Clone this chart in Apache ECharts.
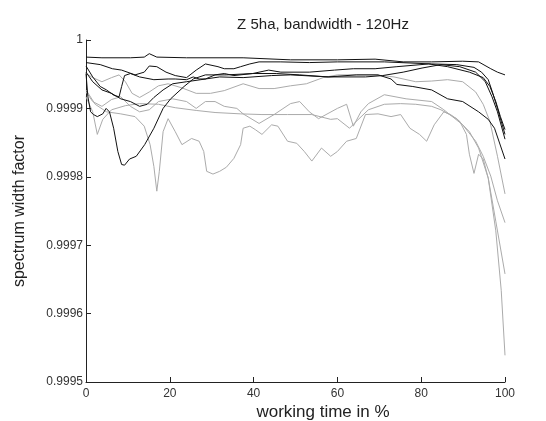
<!DOCTYPE html>
<html>
<head>
<meta charset="utf-8">
<script src="https://cdn.jsdelivr.net/npm/echarts@6/dist/echarts.min.js"></script>
<style>
  html, body { margin: 0; padding: 0; background: #fff; }
  #chart { width: 546px; height: 421px; }
</style>
</head>
<body>
<div id="chart"></div>
<script>
// x = working time in %, y = spectrum width factor
const xTicks = [0, 20, 40, 60, 80, 100];
const yTicks = [0.9995, 0.9996, 0.9997, 0.9998, 0.9999, 1];

// black runs
const black1 = [[0,0.999975],[3.8,0.999974],[10.6,0.999974],[13.9,0.999975],[15.1,0.99998],[16.9,0.999975],[24,0.999974],[37.5,0.999974],[48.8,0.999971],[60,0.999971],[69,0.999972],[75.7,0.999968],[82.5,0.999968],[89.9,0.999969],[93.7,0.999968],[96.6,0.999958],[98.2,0.999953],[100,0.999949]];
const black2 = [[0,0.999967],[3.4,0.999964],[6.3,0.999958],[8.5,0.999956],[11.7,0.999949],[13.9,0.999953],[15.1,0.999962],[16.9,0.999961],[19.1,0.999953],[21.3,0.999948],[24,0.999945],[26.3,0.999956],[28.5,0.999965],[31.5,0.999961],[33,0.999958],[35.3,0.999958],[36.9,0.999961],[39.1,0.999965],[41.3,0.999968],[46.5,0.999968],[53.3,0.999967],[60,0.999968],[71.2,0.999968],[82.5,0.999965],[88.5,0.999964],[92.6,0.99996],[94.4,0.999953],[96,0.999942],[97.1,0.999922],[98.2,0.9999],[100,0.999862]];
const black3 = [[0,0.999962],[1.6,0.999946],[3.4,0.999932],[4.9,0.999927],[6.7,0.999919],[7.9,0.999917],[8.5,0.999932],[9.2,0.999948],[10.6,0.999951],[12.8,0.999946],[16.2,0.999942],[19.6,0.999943],[21.3,0.999943],[24,0.999942],[25.6,0.999946],[27,0.999943],[28.5,0.999943],[30.8,0.999949],[33,0.999951],[35.3,0.999948],[39.8,0.999951],[43.6,0.999956],[46.5,0.999953],[53.3,0.999953],[59.3,0.999956],[63.8,0.999958],[69,0.999958],[74.2,0.999961],[81.8,0.999965],[86.3,0.999961],[91.5,0.999953],[94.8,0.999945],[96.4,0.999932],[97.8,0.99991],[98.9,0.999888],[100,0.999869]];
const black4 = [[0,0.999951],[0.45,0.999917],[1.1,0.999895],[1.8,0.999891],[2.7,0.999888],[4,0.999892],[4.8,0.9999],[5.6,0.999895],[6.6,0.999871],[7.6,0.999837],[8.5,0.999818],[9.2,0.999817],[10.4,0.999826],[12,0.99983],[14,0.999847],[16.2,0.999871],[18.4,0.9999],[20.2,0.999914],[23.4,0.999932],[25.6,0.999943],[28.5,0.999949],[33.5,0.999949],[39.8,0.999951],[45.4,0.999951],[51,0.999949],[57.8,0.999946],[64.5,0.999949],[69.7,0.999949],[72.8,0.999943],[74.2,0.999935],[78,0.999932],[82.5,0.999927],[86.3,0.999914],[89.9,0.99991],[93.7,0.999895],[96,0.999884],[97.5,0.999871],[100,0.999826]];
const black5 = [[0,0.999953],[1.6,0.999939],[3.8,0.999927],[6.1,0.999922],[8.3,0.999914],[10.6,0.99991],[12.8,0.999903],[14.6,0.999906],[16.2,0.999916],[18.4,0.999927],[20.7,0.999936],[24,0.999939],[27.4,0.999942],[31.9,0.999946],[37.5,0.999945],[44.3,0.999948],[48.8,0.999949],[57.8,0.999946],[66.7,0.999946],[70.8,0.999948],[75.7,0.999953],[80.2,0.999959],[84.7,0.999964],[89.2,0.999961],[93,0.999953],[95.3,0.999939],[96.9,0.999917],[98.2,0.999895],[100,0.999855]];

// grey runs
const grey1 = [[0,0.999951],[1.6,0.999945],[3.8,0.999939],[6.1,0.999945],[7.9,0.999949],[9.4,0.999939],[11,0.999922],[12.8,0.999916],[15.1,0.999924],[17.3,0.999933],[19.6,0.999936],[22.9,0.99993],[26.3,0.999922],[29.7,0.999922],[33,0.999926],[37.5,0.999936],[41.3,0.999929],[44.9,0.999929],[48.8,0.999933],[52.6,0.999936],[56.6,0.999945],[60,0.999949],[69,0.999949],[73.5,0.999946],[78.7,0.999939],[82.5,0.99994],[86.3,0.999942],[89.9,0.999939],[93,0.999924],[94.8,0.999906],[96.4,0.999881],[98.2,0.99983],[100,0.999775]];
const grey2 = [[0,0.999924],[1.6,0.99991],[3.8,0.999903],[6.1,0.999913],[8.3,0.999917],[10.6,0.999903],[12.8,0.999895],[15.1,0.999898],[17.3,0.99991],[20.7,0.999914],[24,0.99991],[26.3,0.9999],[28.5,0.99991],[30.8,0.99991],[33,0.999903],[36,0.9999],[37.5,0.999892],[41.3,0.999878],[44.9,0.999891],[48.8,0.999907],[51,0.99991],[53.3,0.999895],[55.5,0.999885],[60,0.9999],[62.2,0.999906],[63.8,0.999874],[65.6,0.999895],[67.4,0.999907],[71.2,0.99992],[76.4,0.999914],[82.5,0.99991],[85.4,0.999898],[89.9,0.999876],[93,0.999852],[94.8,0.99983],[96.6,0.999801],[98.2,0.999765],[100,0.999733]];
const grey3 = [[0,0.999917],[1.6,0.999895],[2.7,0.999862],[4,0.999884],[6.1,0.999898],[9.4,0.999904],[12.8,0.999907],[17.3,0.999906],[21.3,0.999901],[26.3,0.999897],[30.8,0.999894],[36.9,0.999892],[42,0.999891],[48.1,0.999891],[53.9,0.999891],[58.4,0.999884],[60,0.999885],[62.9,0.999871],[64.5,0.999881],[67.4,0.999898],[71.2,0.999906],[75.1,0.999907],[78.7,0.999906],[82.5,0.999903],[84.7,0.999898],[88.5,0.999885],[89.9,0.999876],[91.5,0.999866],[93.7,0.999842],[96,0.999798],[97.8,0.999735],[100,0.999658]];
const grey4 = [[0,0.999927],[2.2,0.999906],[4.9,0.999895],[8.3,0.999892],[11.7,0.999888],[13.9,0.999874],[15.3,0.999847],[16.2,0.999815],[16.9,0.999779],[17.5,0.999808],[18.4,0.999866],[19.6,0.999885],[21.3,0.999866],[22.9,0.999847],[25.2,0.999856],[27,0.999852],[28.1,0.999837],[28.8,0.999808],[30.3,0.999804],[31.9,0.999808],[33.5,0.999814],[35.3,0.999827],[36.9,0.999847],[37.5,0.999871],[39.1,0.999874],[40.4,0.999869],[42,0.999862],[44.3,0.999876],[45.8,0.999874],[48.1,0.999852],[50.3,0.999849],[52.1,0.999837],[53.9,0.999823],[56.2,0.999842],[58.4,0.99983],[60,0.999837],[62.2,0.999852],[64.5,0.999856],[66.7,0.999891],[69.7,0.999892],[72.8,0.999888],[75.1,0.999891],[77.3,0.999871],[79.6,0.999862],[81.3,0.999852],[83.1,0.999876],[85.4,0.999895],[87,0.999891],[89.2,0.999881],[90.8,0.999862],[91.5,0.999833],[92.6,0.999805],[93.7,0.999833],[94.8,0.999826],[96,0.999798],[97.8,0.999721],[99.1,0.999634],[100,0.999539]];

const blackRuns = [black1, black2, black3, black4, black5];
const greyRuns = [grey1, grey2, grey3, grey4];

const chart = echarts.init(document.getElementById('chart'));

const font = 'Liberation Sans, Arial, sans-serif';
const mkLine = (data, color) => ({
  type: 'line',
  data: data,
  showSymbol: false,
  symbol: 'none',
  smooth: false,
  animation: false,
  lineStyle: { color: color, width: 1 }
});

const series = [];
greyRuns.forEach(d => series.push(mkLine(d, '#ababab')));
blackRuns.forEach(d => series.push(mkLine(d, '#111111')));

chart.setOption({
  animation: false,
  backgroundColor: '#fff',
  textStyle: { fontFamily: font },
  title: [
    {
      text: 'Z 5ha, bandwidth - 120Hz',
      left: 318,
      top: 12,
      textAlign: 'center',
      textStyle: { fontSize: 15, fontWeight: 'normal', color: '#222', fontFamily: font }
    },
    {
      text: 'working time in %',
      left: 318,
      top: 399,
      textAlign: 'center',
      textStyle: { fontSize: 17, fontWeight: 'normal', color: '#222', fontFamily: font }
    }
  ],
  grid: { left: 86, right: 41, top: 40, bottom: 39, containLabel: false },
  xAxis: {
    type: 'value',
    min: 0,
    max: 100,
    interval: 20,
    axisLine: { show: true, lineStyle: { color: '#222', width: 1 } },
    axisTick: { show: true, inside: true, length: 5, lineStyle: { color: '#222' } },
    axisLabel: { color: '#333', fontSize: 12, margin: 6, fontFamily: font,
      formatter: v => (xTicks.indexOf(v) >= 0 ? String(v) : '') },
    splitLine: { show: false }
  },
  yAxis: {
    type: 'value',
    min: 0.9995,
    max: 1,
    interval: 0.0001,
    name: 'spectrum width factor',
    nameLocation: 'middle',
    nameGap: 58,
    nameTextStyle: { fontSize: 16, color: '#222', fontFamily: font },
    axisLine: { show: true, lineStyle: { color: '#222', width: 1 } },
    axisTick: { show: true, inside: true, length: 5, lineStyle: { color: '#222' } },
    axisLabel: { color: '#333', fontSize: 12, margin: 3, fontFamily: font,
      formatter: v => (Math.abs(v - 1) < 1e-9 ? '1' : v.toFixed(4)) },
    splitLine: { show: false }
  },
  series: series
});
</script>
</body>
</html>
